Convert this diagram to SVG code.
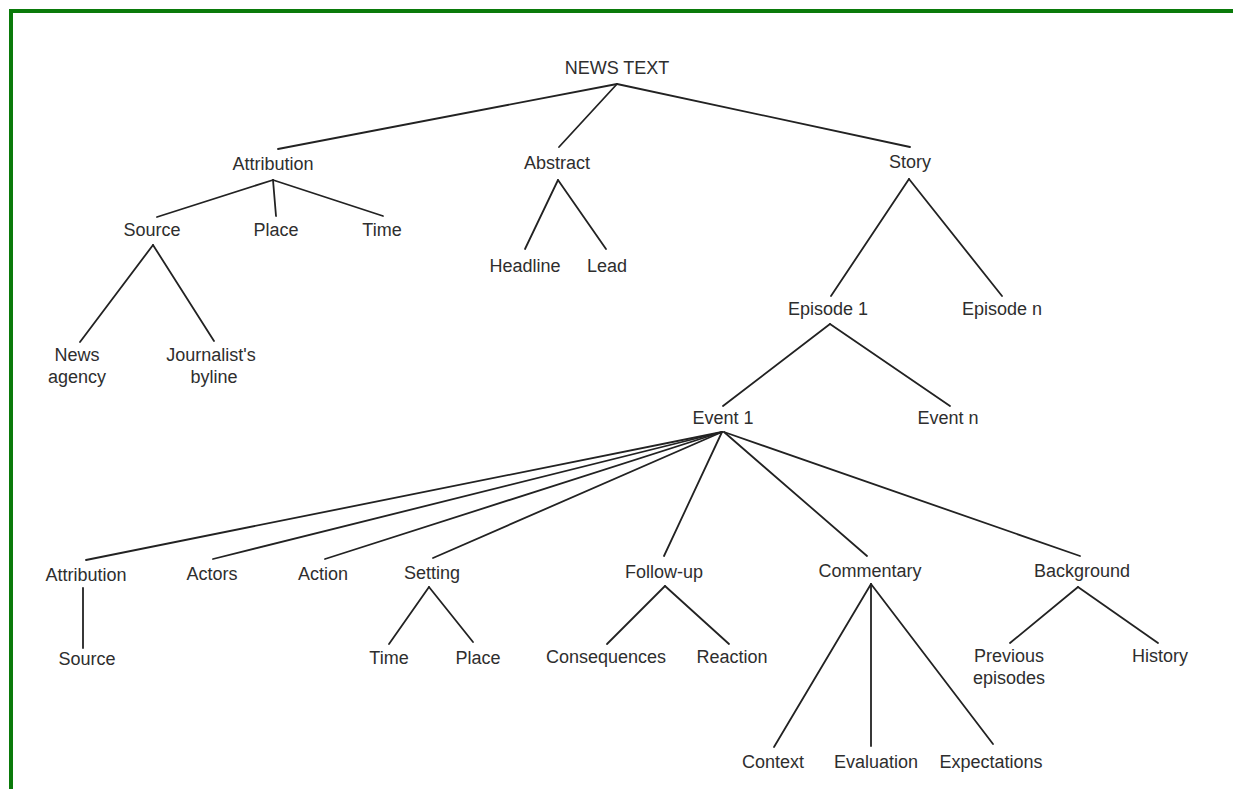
<svg xmlns="http://www.w3.org/2000/svg" width="1233" height="789" viewBox="0 0 1233 789">
<style>
text{font-family:"Liberation Sans",Arial,sans-serif;font-size:18px;fill:#2e2e2e;text-anchor:middle}
.e line{stroke:#222;stroke-width:1.8;stroke-linecap:round}
.b{stroke:#0a7a0a;stroke-width:4;fill:none}
</style>
<rect width="1233" height="789" fill="#fff"/>
<path class="b" d="M11,789 V11 H1233"/>
<g class="e" id="connectors">
<line x1="617" y1="84" x2="278" y2="149"/>
<line x1="617" y1="84" x2="559" y2="147"/>
<line x1="617" y1="84" x2="910" y2="147"/>
<line x1="273" y1="180" x2="157" y2="217"/>
<line x1="273" y1="180" x2="276" y2="216"/>
<line x1="273" y1="180" x2="383" y2="216"/>
<line x1="153" y1="245" x2="80" y2="342"/>
<line x1="153" y1="245" x2="214" y2="341"/>
<line x1="558" y1="180" x2="525" y2="249"/>
<line x1="558" y1="180" x2="606" y2="249"/>
<line x1="909" y1="179" x2="831" y2="296"/>
<line x1="909" y1="179" x2="1002" y2="296"/>
<line x1="830" y1="324" x2="723" y2="406"/>
<line x1="830" y1="324" x2="950" y2="406"/>
<line x1="722" y1="432" x2="86" y2="560"/>
<line x1="722" y1="432" x2="213" y2="559"/>
<line x1="722" y1="432" x2="325" y2="559"/>
<line x1="722" y1="432" x2="433" y2="558"/>
<line x1="722" y1="432" x2="664" y2="556"/>
<line x1="724" y1="432" x2="867" y2="556"/>
<line x1="724" y1="432" x2="1080" y2="556"/>
<line x1="83" y1="588" x2="83" y2="648"/>
<line x1="429" y1="587" x2="389" y2="644"/>
<line x1="429" y1="587" x2="473" y2="642"/>
<line x1="665" y1="586" x2="607" y2="644"/>
<line x1="665" y1="586" x2="729" y2="644"/>
<line x1="871" y1="584" x2="774" y2="747"/>
<line x1="871" y1="584" x2="871" y2="746"/>
<line x1="871" y1="584" x2="993" y2="744"/>
<line x1="1078" y1="587" x2="1010" y2="643"/>
<line x1="1078" y1="587" x2="1158" y2="643"/>
</g>
<g id="news-text"><text x="617" y="74">NEWS TEXT</text></g>
<g id="attribution"><text x="273" y="170">Attribution</text></g>
<g id="abstract"><text x="557" y="169">Abstract</text></g>
<g id="story"><text x="910" y="168">Story</text></g>
<g id="source"><text x="152" y="236">Source</text></g>
<g id="place"><text x="276" y="236">Place</text></g>
<g id="time"><text x="382" y="236">Time</text></g>
<g id="headline"><text x="525" y="272">Headline</text></g>
<g id="lead"><text x="607" y="272">Lead</text></g>
<g id="news-agency"><text x="77" y="361">News</text><text x="77" y="383">agency</text></g>
<g id="journalists-byline"><text x="211" y="361">Journalist's</text><text x="214" y="383">byline</text></g>
<g id="episode-1"><text x="828" y="315">Episode 1</text></g>
<g id="episode-n"><text x="1002" y="315">Episode n</text></g>
<g id="event-1"><text x="723" y="424">Event 1</text></g>
<g id="event-n"><text x="948" y="424">Event n</text></g>
<g id="ev-attribution"><text x="86" y="581">Attribution</text></g>
<g id="ev-source"><text x="87" y="665">Source</text></g>
<g id="actors"><text x="212" y="580">Actors</text></g>
<g id="action"><text x="323" y="580">Action</text></g>
<g id="setting"><text x="432" y="579">Setting</text></g>
<g id="setting-time"><text x="389" y="664">Time</text></g>
<g id="setting-place"><text x="478" y="664">Place</text></g>
<g id="follow-up"><text x="664" y="578">Follow-up</text></g>
<g id="consequences"><text x="606" y="663">Consequences</text></g>
<g id="reaction"><text x="732" y="663">Reaction</text></g>
<g id="commentary"><text x="870" y="577">Commentary</text></g>
<g id="context"><text x="773" y="768">Context</text></g>
<g id="evaluation"><text x="876" y="768">Evaluation</text></g>
<g id="expectations"><text x="991" y="768">Expectations</text></g>
<g id="background"><text x="1082" y="577">Background</text></g>
<g id="previous-episodes"><text x="1009" y="662">Previous</text><text x="1009" y="684">episodes</text></g>
<g id="history"><text x="1160" y="662">History</text></g>
</svg>
